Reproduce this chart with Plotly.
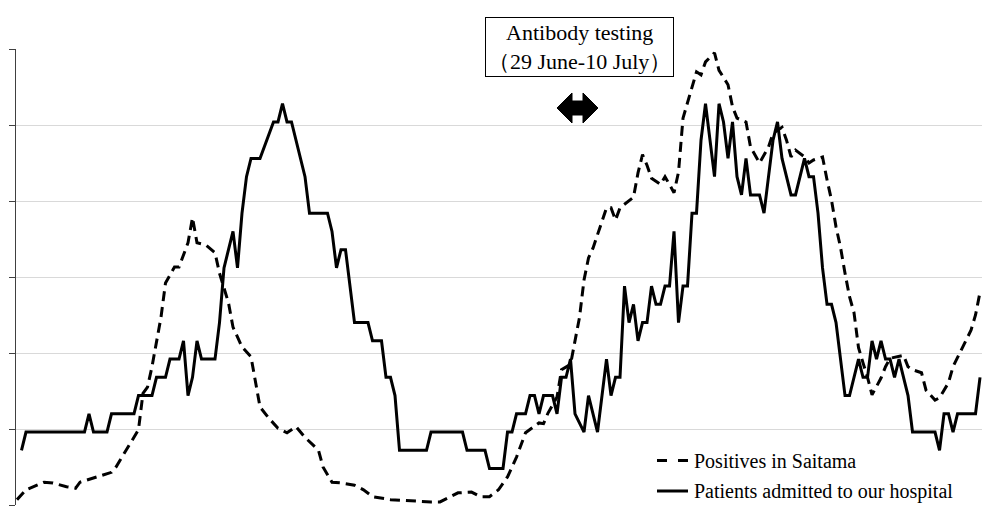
import plotly.graph_objects as go

# ---- data (day index from start of period) ----
saitama_days = [0, 2, 6, 8, 11, 13, 14, 17, 21, 22, 24, 27, 28, 29, 30, 32, 33, 35, 36, 38,
                39, 40, 42, 44, 45, 47, 48, 50, 52, 53, 54, 56, 58, 60, 62, 64, 67, 68, 70, 72,
                75, 77, 79, 83, 88, 92, 94, 97, 98, 101, 103, 105, 107, 109, 111, 113, 116, 117, 118, 120,
                121, 123, 125, 126, 127, 128, 130, 131, 132, 133, 134, 137, 138, 139, 140, 141, 143, 144, 146, 147,
                148, 150, 151, 152, 153, 155, 156, 158, 159, 160, 162, 163, 165, 167, 168, 170, 171, 172, 173, 175,
                176, 177, 179, 180, 181, 182, 183, 184, 185, 186, 187, 188, 189, 190, 192, 193, 194, 197, 198, 199,
                201, 202, 204, 205, 207, 208, 210, 212, 213, 214]
saitama_pos = [0.7, 2.0, 3.0, 2.9, 2.4, 2.2, 3.0, 3.6, 4.3, 5.0, 7.0, 9.9, 14.7, 15.5, 18.2, 24.7, 29.2, 31.3, 31.3, 34.5,
               37.8, 34.5, 34.2, 33.2, 30.5, 26.6, 23.4, 20.8, 19.5, 16.1, 12.9, 11.4, 10.1, 9.5, 10.3, 8.9, 7.2, 5.0, 3.0, 2.9,
               2.6, 2.0, 1.1, 0.7, 0.5, 0.4, 0.4, 1.3, 1.6, 1.7, 1.1, 1.1, 2.0, 3.7, 6.3, 9.5, 10.8, 10.7, 12.1, 14.2,
               17.8, 18.5, 24.7, 29.6, 32.5, 33.8, 37.2, 39.1, 39.1, 37.5, 39.1, 40.5, 43.7, 46.1, 44.7, 43.0, 42.2, 43.2, 41.1, 43.8,
               50.9, 55.0, 57.0, 56.6, 58.3, 59.5, 57.2, 55.3, 52.4, 50.9, 50.4, 47.1, 45.0, 47.1, 48.9, 49.7, 48.0, 45.8, 46.7, 45.8,
               45.0, 45.4, 45.8, 42.8, 40.1, 36.6, 33.9, 30.5, 27.4, 25.3, 20.7, 18.7, 16.8, 14.5, 16.7, 18.2, 19.3, 19.7, 18.2, 17.8,
               17.4, 15.1, 13.8, 14.1, 16.1, 18.2, 20.7, 23.0, 25.0, 28.0]

hospital_days = [1, 2, 15, 16, 17, 20, 21, 26, 27, 30, 31, 33, 34, 36, 37, 38, 39, 40, 41, 44,
                 45, 46, 48, 49, 50, 51, 52, 54, 57, 58, 59, 60, 61, 62, 63, 64, 65, 69, 70, 71,
                 72, 73, 75, 78, 79, 81, 82, 83, 84, 85, 91, 92, 99, 100, 104, 105, 108, 109, 110, 111,
                 113, 114, 115, 116, 117, 119, 120, 121, 122, 123, 124, 126, 127, 129, 131, 132, 133, 134, 135, 136,
                 137, 138, 139, 140, 141, 142, 143, 144, 145, 146, 147, 148, 149, 150, 151, 152, 153, 155, 156, 157,
                 158, 159, 160, 161, 162, 163, 165, 166, 168, 169, 170, 171, 172, 173, 175, 176, 177, 178, 179, 180,
                 181, 182, 184, 185, 187, 188, 189, 190, 191, 192, 193, 194, 195, 196, 197, 198, 199, 204, 205, 206,
                 207, 208, 209, 213, 214]
hospital_pts = [3, 4, 4, 5, 4, 4, 5, 5, 6, 6, 7, 7, 8, 8, 9, 6, 7, 9, 8, 8,
                10, 13, 15, 13, 16, 18, 19, 19, 21, 21, 22, 21, 21, 20, 19, 18, 16, 16, 15, 13,
                14, 14, 10, 10, 9, 9, 7, 7, 6, 3, 3, 4, 4, 3, 3, 2, 2, 4, 4, 5,
                5, 6, 6, 5, 6, 6, 5, 7, 7, 8, 5, 4, 6, 4, 8, 6, 7, 7, 12, 10,
                11, 9, 10, 10, 12, 11, 11, 12, 12, 15, 10, 12, 12, 16, 16, 20, 22, 18, 22, 21,
                19, 21, 18, 17, 19, 17, 17, 16, 20, 21, 19, 18, 17, 17, 19, 18, 18, 16, 13, 11,
                11, 10, 6, 6, 8, 7, 7, 9, 8, 9, 8, 8, 7, 8, 7, 6, 4, 4, 3, 5,
                5, 4, 5, 5, 7]

assert len(saitama_days) == len(saitama_pos)
assert len(hospital_days) == len(hospital_pts)

series_names = ["Positives in Saitama", "Patients admitted to our hospital"]
note_text = "Antibody testing<br>（29 June-10 July）"

W, H = 982, 506
L, R, T, B = 16, 0, 49, 1
PW, PH = W - L - R, H - T - B


def px(xp):
    return (xp - L) / PW


def py(yp):
    return (H - B - yp) / PH


SERIF = "Liberation Serif, Times New Roman, serif"
DASH = "10px,6px"

fig = go.Figure()
fig.add_trace(go.Scatter(
    x=saitama_days, y=saitama_pos, mode="lines", name=series_names[0],
    line=dict(color="black", width=3, dash=DASH), yaxis="y"))
fig.add_trace(go.Scatter(
    x=hospital_days, y=hospital_pts, mode="lines", name=series_names[1],
    line=dict(color="black", width=3), yaxis="y2"))

# double-headed arrow marking the antibody testing period
pts = [(557, 108), (572, 93), (572, 101), (583, 101), (583, 93), (598, 108),
       (583, 123), (583, 115), (572, 115), (572, 123)]
path = "M " + " L ".join(f"{px(a):.5f},{py(b):.5f}" for a, b in pts) + " Z"
fig.add_shape(type="path", xref="paper", yref="paper", path=path,
              fillcolor="black", line=dict(color="black", width=1))

fig.add_annotation(
    xref="paper", yref="paper", x=px(579.5), y=py(46.5), xanchor="center", yanchor="middle",
    text=note_text, showarrow=False, align="center",
    font=dict(family=SERIF, size=22, color="black"),
    bordercolor="black", borderwidth=1, borderpad=2, bgcolor="white")

# legend drawn as line samples + text (placed bottom-right inside the plot)
legend_rows = [(series_names[0], "10px,11px", 460.5), (series_names[1], "solid", 491)]
for name, dash, yrow in legend_rows:
    fig.add_shape(type="line", xref="paper", yref="paper",
                  x0=px(657), x1=px(688), y0=py(yrow), y1=py(yrow),
                  line=dict(color="black", width=3, dash=dash))
    fig.add_annotation(xref="paper", yref="paper", x=px(692), y=py(yrow),
                       xanchor="left", yanchor="middle", text=name, showarrow=False,
                       font=dict(family=SERIF, size=20, color="black"))

fig.update_layout(
    width=W, height=H,
    margin=dict(l=L, r=R, t=T, b=B, pad=0),
    paper_bgcolor="white", plot_bgcolor="white",
    showlegend=False,
    xaxis=dict(range=[-0.22, 214.44], showgrid=False, zeroline=False, showline=False,
               showticklabels=False, ticks=""),
    yaxis=dict(range=[0, 60], dtick=10, showgrid=True, gridcolor="#d9d9d9", gridwidth=1,
               zeroline=False, showline=True, linecolor="#404040", linewidth=1,
               ticks="outside", ticklen=6, tickcolor="#404040", showticklabels=False),
    yaxis2=dict(range=[0, 25], overlaying="y", side="right", showgrid=False,
                zeroline=False, showline=False, showticklabels=False, ticks=""),
)

fig.write_html("out.html", config={"displayModeBar": False},
               post_script="document.body.style.margin='0';document.body.style.overflow='hidden';")
